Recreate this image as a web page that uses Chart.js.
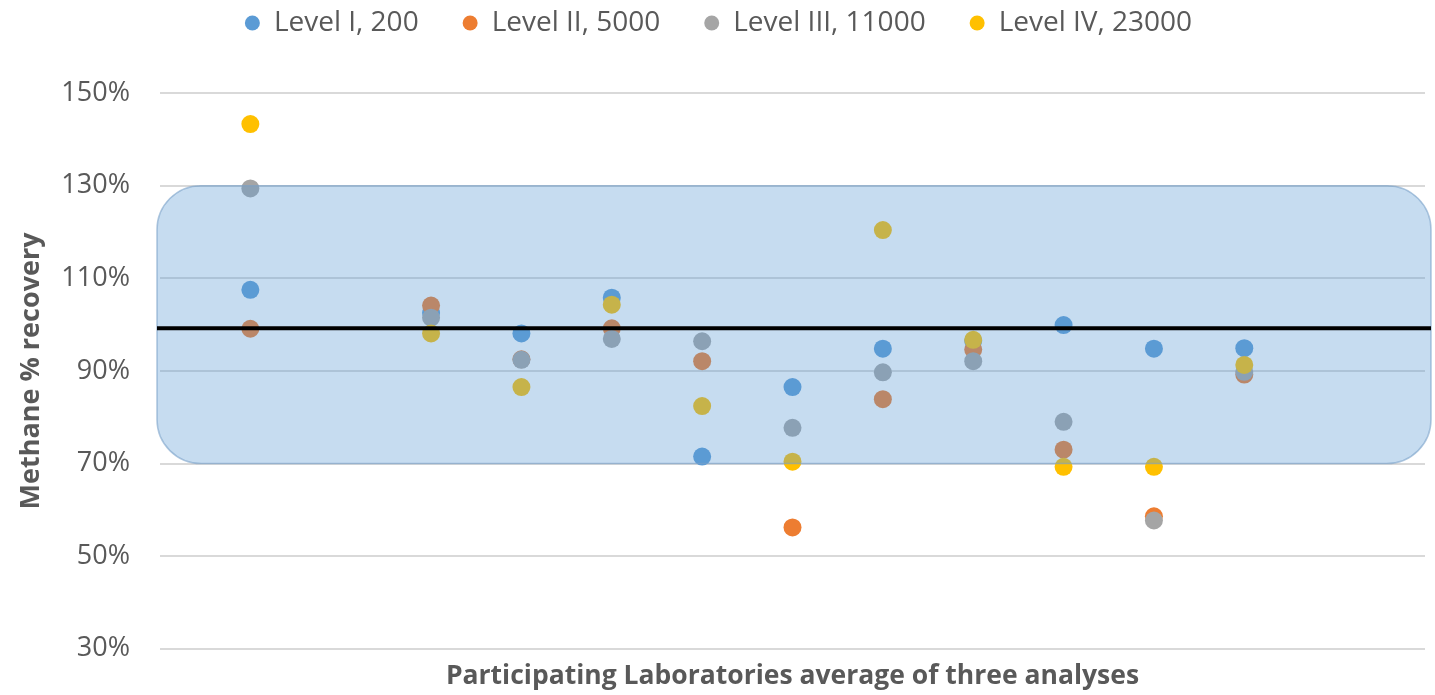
<!DOCTYPE html>
<html>
<head>
<meta charset="utf-8">
<script src="https://cdn.jsdelivr.net/npm/chart.js@4.4.1/dist/chart.umd.min.js"></script>
<style>
  html, body { margin: 0; padding: 0; background: #fff; }
  #wrap { width: 1435px; height: 695px; }
</style>
</head>
<body>
<div id="wrap"><canvas id="chart"></canvas></div>
<script>
// labs along the x axis (lab 2 has no results)
const labs = [1, 2, 3, 4, 5, 6, 7, 8, 9, 10, 11, 12];
const level1 = [107.5, null, 102.5, 98.1, 105.8, 71.5, 86.5, 94.8, 96.5, 99.9, 94.8, 94.9];
const level2 = [99.1, null, 104.1, 92.5, 99.2, 92.1, 56.2, 83.9, 94.6, 73.0, 58.6, 89.2];
const level3 = [129.4, null, 101.5, 92.4, 96.9, 96.4, 77.7, 89.7, 92.1, 79.0, 57.7, 89.8];
const level4 = [143.3, null, 98.1, 86.5, 104.3, 82.4, 70.4, 120.4, 96.7, 69.3, 69.3, 91.3];
const seriesNames = ['Level I, 200', 'Level II, 5000', 'Level III, 11000', 'Level IV, 23000'];
const seriesColors = ['#5b9bd5', '#ed7d31', '#a5a5a5', '#ffc000'];
const yTicks = [30, 50, 70, 90, 110, 130, 150];
const bandLow = 70, bandHigh = 130;
const meanLine = 99.2;

const toPoints = (vals) => labs.map((x, i) => ({ x: x, y: vals[i] })).filter(p => p.y !== null);

const allSeries = [level1, level2, level3, level4];
const datasets = allSeries.map((vals, i) => ({
  label: seriesNames[i],
  data: toPoints(vals),
  backgroundColor: seriesColors[i],
  borderColor: seriesColors[i],
  pointRadius: 9,
  pointHoverRadius: 9,
  pointBorderWidth: 0,
  order: allSeries.length - i,
}));

// acceptance band + mean line, drawn over the points like the original
const bandPlugin = {
  id: 'band',
  afterDatasetsDraw(chart) {
    const { ctx, chartArea, scales } = chart;
    const top = scales.y.getPixelForValue(bandHigh);
    const bottom = scales.y.getPixelForValue(bandLow);
    const left = chartArea.left - 3;
    const right = chartArea.right + 6;
    ctx.save();
    ctx.beginPath();
    ctx.roundRect(left, top, right - left, bottom - top, 44);
    ctx.fillStyle = 'rgba(91,155,213,0.35)';
    ctx.fill();
    ctx.lineWidth = 1.5;
    ctx.strokeStyle = 'rgba(120,160,200,0.6)';
    ctx.stroke();
    const ym = scales.y.getPixelForValue(meanLine);
    ctx.beginPath();
    ctx.moveTo(left, ym);
    ctx.lineTo(right, ym);
    ctx.lineWidth = 4;
    ctx.strokeStyle = '#000';
    ctx.stroke();
    ctx.restore();
  }
};

// leave a fixed gap under the legend
const legendGap = {
  id: 'legendGap',
  beforeInit(chart) {
    const fit = chart.legend.fit;
    chart.legend.fit = function () {
      fit.bind(chart.legend)();
      this.height = 128;
    };
  }
};

new Chart(document.getElementById('chart'), {
  type: 'scatter',
  data: { datasets: datasets },
  plugins: [bandPlugin, legendGap],
  options: {
    responsive: true,
    maintainAspectRatio: false,
    animation: false,
    layout: { padding: { top: -35, right: 10, bottom: 0, left: 12 } },
    plugins: {
      tooltip: { enabled: false },
      legend: {
        position: 'top',
        labels: {
          usePointStyle: true,
          pointStyle: 'circle',
          boxWidth: 15,
          boxHeight: 10.6,
          padding: 44,
          color: '#595959',
          font: { family: 'Open Sans', size: 28 },
          sort: (a, b) => a.datasetIndex - b.datasetIndex,
        },
      },
    },
    scales: {
      x: {
        type: 'linear',
        min: 0,
        max: 14,
        grid: { display: false },
        border: { display: false },
        ticks: { display: false },
        title: {
          display: true,
          text: 'Participating Laboratories average of three analyses',
          color: '#595959',
          font: { family: 'Open Sans', size: 26.5, weight: 'bold' },
          padding: { top: 4, bottom: -1 },
        },
      },
      y: {
        min: 30,
        max: 150,
        afterBuildTicks(scale) { scale.ticks = yTicks.map(v => ({ value: v })); },
        afterFit(scale) { scale.width = 148; },
        grid: { color: '#d9d9d9', lineWidth: 2, drawTicks: false },
        border: { display: false },
        ticks: {
          color: '#595959',
          padding: 30,
          font: { family: 'Open Sans', size: 27 },
          callback: (v) => v + '%',
        },
        title: {
          display: true,
          text: 'Methane % recovery',
          color: '#595959',
          font: { family: 'Open Sans', size: 27, weight: 'bold' },
          padding: { top: 3, bottom: 0 },
        },
      },
    },
  },
});
</script>
</body>
</html>
